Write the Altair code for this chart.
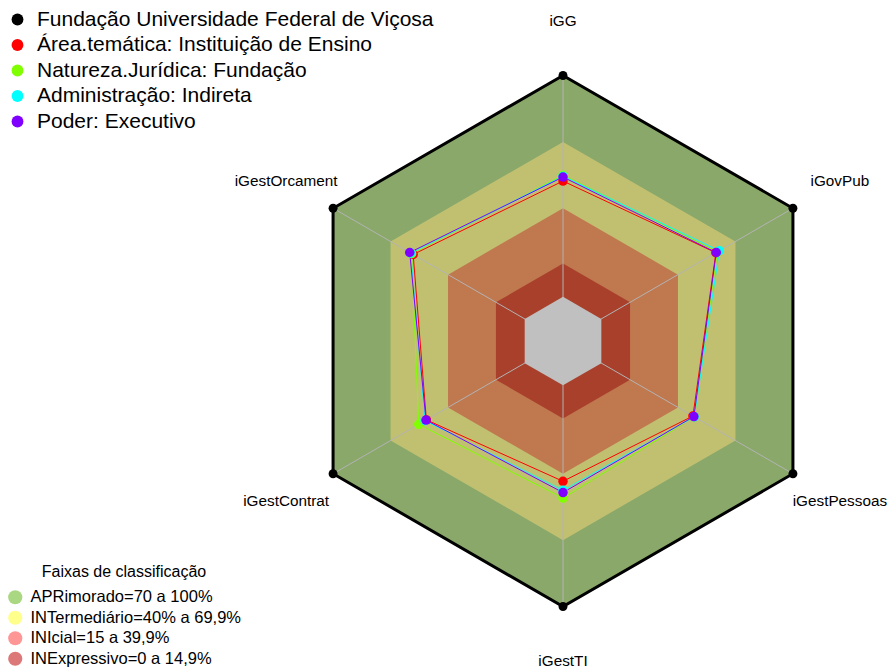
import math
import pandas as pd
import altair as alt

# ---------------- data ----------------
axis_names = ["iGG", "iGovPub", "iGestPessoas", "iGestTI", "iGestContrat", "iGestOrcament"]

series_names = [
    "Fundação Universidade Federal de Viçosa",
    "Área.temática: Instituição de Ensino",
    "Natureza.Jurídica: Fundação",
    "Administração: Indireta",
    "Poder: Executivo",
]
ufv_values = [100, 100, 100, 100, 100, 100]
area_tematica_values = [52.3, 59.8, 47.8, 43.4, 51.3, 58.2]
natureza_values = [54.9, 60.5, 48.5, 51.0, 55.3, 59.0]
administracao_values = [54.5, 61.6, 48.5, 47.5, 52.0, 59.5]
poder_values = [54.1, 60.0, 48.3, 48.5, 51.5, 60.0]
series_values = [ufv_values, area_tematica_values, natureza_values,
                 administracao_values, poder_values]
series_colors = ["#000000", "#ff0000", "#80ff00", "#00ffff", "#8000ff"]

band_names = [
    "APRimorado=70 a 100%",
    "INTermediário=40% a 69,9%",
    "INIcial=15 a 39,9%",
    "INExpressivo=0 a 14,9%",
]
band_upper = [100, 70, 40, 15]
band_fill_colors = ["#89a869", "#c1c071", "#c0784f", "#a8402c"]
band_legend_colors = ["#aad782", "#ffff8c", "#ff9696", "#dc7878"]
core_upper = 0
core_color = "#c0c0c0"

R_MIN = -20          # radial axis starts below 0 (grey core)
LABEL_VALUE = 124.5  # where the axis names sit

# ---------------- geometry helpers ----------------
def polar(value, i):
    th = math.radians(60 * i)
    r = value - R_MIN
    return r * math.sin(th), r * math.cos(th)

W, H = 880, 664
CX, CY = 555, 333
K = 265.5 / (100 - R_MIN)
x_dom = [-CX / K, (W - CX) / K]
y_dom = [-(H - CY) / K, CY / K]
xs = alt.Scale(domain=x_dom, nice=False, zero=False)
ys = alt.Scale(domain=y_dom, nice=False, zero=False)
FONT = "Liberation Sans"

# series table (closed polygons)
srows = []
for name, vals in zip(series_names, series_values):
    for j in range(7):
        i = j % 6
        x, y = polar(vals[i], i)
        srows.append(dict(series=name, idx=j, axis=axis_names[i], value=vals[i], x=x, y=y))
sdf = pd.DataFrame(srows)

# band hexagons as areas (upper boundary y, lower boundary y2)
def hexagon_rows(name, upper):
    rows = []
    for ti, bi in [(5, 4), (0, 3), (1, 2)]:
        x, y = polar(upper, ti)
        _, y2 = polar(upper, bi)
        rows.append(dict(band=name, x=x, y=y, y2=y2))
    return rows

# spokes
sprows = []
for i, a in enumerate(axis_names):
    x0, y0 = polar(R_MIN, i)
    x1, y1 = polar(100, i)
    sprows.append(dict(axis=a, x0=x0, y0=y0, x1=x1, y1=y1))
spdf = pd.DataFrame(sprows)

# axis labels
lrows = []
for i, a in enumerate(axis_names):
    x, y = polar(LABEL_VALUE, i)
    lrows.append(dict(axis=a, x=x, y=y))
ldf = pd.DataFrame(lrows)

# ---------------- layers ----------------
layers = []
for name, upper, col in zip(band_names, band_upper, band_fill_colors):
    d = pd.DataFrame(hexagon_rows(name, upper))
    layers.append(
        alt.Chart(d).mark_area(color=col, opacity=1, interpolate="linear").encode(
            x=alt.X("x:Q", scale=xs, axis=None),
            y=alt.Y("y:Q", scale=ys, axis=None),
            y2="y2:Q",
        )
    )

layers.append(
    alt.Chart(spdf).mark_rule(color="#b3b3b3", strokeWidth=1).encode(
        x=alt.X("x0:Q", scale=xs, axis=None),
        y=alt.Y("y0:Q", scale=ys, axis=None),
        x2="x1:Q",
        y2="y1:Q",
    )
)

core_df = pd.DataFrame(hexagon_rows("core", core_upper))
layers.append(
    alt.Chart(core_df).mark_area(color=core_color, opacity=1).encode(
        x=alt.X("x:Q", scale=xs, axis=None),
        y=alt.Y("y:Q", scale=ys, axis=None),
        y2="y2:Q",
    )
)

color_scale = alt.Scale(domain=series_names, range=series_colors)
series_legend = alt.Legend(
    title=None, orient="none", legendX=-1, legendY=1,
    symbolType="circle", symbolSize=140, symbolStrokeWidth=0, symbolOpacity=1,
    labelFontSize=21, labelFont=FONT, labelLimit=0, labelOffset=9,
    rowPadding=3.5, padding=0,
)

for k, name in enumerate(series_names):
    d = sdf[sdf["series"] == name]
    layers.append(
        alt.Chart(d).mark_line(strokeWidth=3 if k == 0 else 1,
                               color=series_colors[k]).encode(
            x=alt.X("x:Q", scale=xs, axis=None),
            y=alt.Y("y:Q", scale=ys, axis=None),
            order="idx:Q",
        )
    )

for k, name in enumerate(series_names):
    d = sdf[(sdf["series"] == name) & (sdf["idx"] < 6)]
    layers.append(
        alt.Chart(d).mark_circle(size=80 if k == 0 else 90, opacity=1).encode(
            x=alt.X("x:Q", scale=xs, axis=None),
            y=alt.Y("y:Q", scale=ys, axis=None),
            color=alt.Color("series:N", scale=color_scale, legend=series_legend),
        )
    )

layers.append(
    alt.Chart(ldf).mark_text(fontSize=15.3, font=FONT, color="#000000",
                             align="center", baseline="middle").encode(
        x=alt.X("x:Q", scale=xs, axis=None),
        y=alt.Y("y:Q", scale=ys, axis=None),
        text="axis:N",
    )
)

band_df = pd.DataFrame({"band": band_names})
layers.append(
    alt.Chart(band_df).mark_circle(opacity=0).encode(
        fill=alt.Fill(
            "band:N",
            scale=alt.Scale(domain=band_names, range=band_legend_colors),
            legend=alt.Legend(
                title="Faixas de classificação", orient="none", legendX=-1, legendY=556,
                titleFontSize=16, titleFont=FONT, titleFontWeight="normal",
                titleAnchor="middle", titlePadding=9,
                symbolType="circle", symbolSize=201, symbolStrokeWidth=0, symbolOpacity=1,
                labelFontSize=16.5, labelFont=FONT, labelLimit=0, labelOffset=7,
                rowPadding=3.5, padding=0,
            ),
        )
    )
)

chart = alt.layer(*layers).properties(
    width=W, height=H, padding=0,
    autosize=alt.AutoSizeParams(type="none"),
    background="white",
).configure(font=FONT).configure_view(stroke=None)

chart.save("out.html", embed_options={"renderer": "svg", "actions": False})
